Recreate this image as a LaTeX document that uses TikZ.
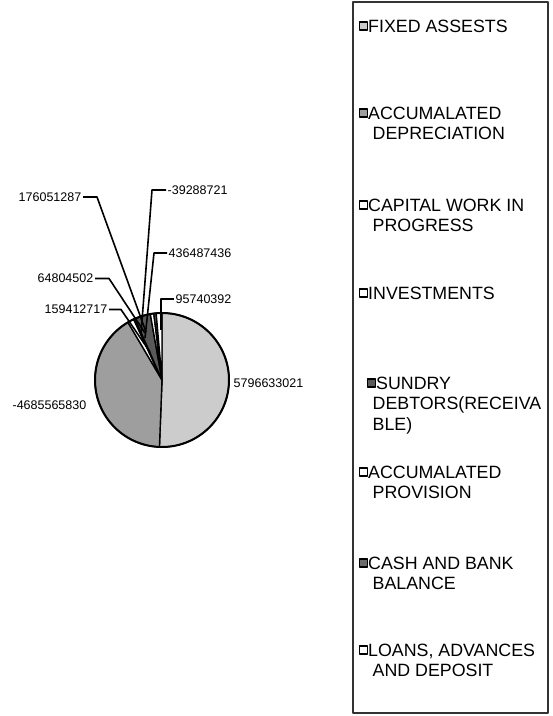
\documentclass[tikz,border=0pt]{standalone}
\usepackage{fontspec}
\setmainfont{Liberation Sans}
\definecolor{faGray}{gray}{0.80}
\definecolor{adGray}{gray}{0.62}
\definecolor{sdGray}{gray}{0.35}
\definecolor{cbGray}{gray}{0.42}
\begin{document}
\begin{tikzpicture}[x=1bp,y=-1bp,line join=round,
  num/.style={font=\fontsize{12.5bp}{14bp}\selectfont, inner sep=1.5bp},
  leg/.style={font=\fontsize{17.8bp}{20.5bp}\selectfont, align=left, inner sep=0pt, anchor=north west},
  key/.style={draw=black, line width=1.6bp, minimum size=8bp, inner sep=0pt},
  lead/.style={line width=1.6bp}]
\useasboundingbox (0,0) rectangle (553,716);

% pie, clockwise from 12 o'clock
\coordinate (c) at (162,380);
\foreach \a/\b/\col in {-90/92.19/faGray, 92.19/239.46/adGray, 239.46/244.99/white,
  244.99/246.23/white, 246.23/259.95/sdGray, 259.95/262.96/white,
  262.96/264.99/cbGray, 264.99/270/white} {
	\draw[line width=1.4bp, fill=\col] (c) -- ++(\a:67) arc (\a:\b:67) -- cycle;
}
\draw[line width=2bp] (c) circle (67);

% value labels
\node[num, anchor=east] (lbCWIP) at (83,197) {176051287};
\node[num, anchor=west] (lbINV) at (166,190) {-39288721};
\node[num, anchor=west] (lbSD) at (167,253) {436487436};
\node[num, anchor=west] (lbAP) at (174,299) {95740392};
\node[num, anchor=east] (lbCB) at (95,278.5) {64804502};
\node[num, anchor=east] (lbLA) at (109,309.5) {159412717};
\node[num, anchor=west] (lbFA) at (232,383) {5796633021};
\node[num, anchor=east] (lbAD) at (88,405) {-4685565830};

\coordinate (pCWIP) at (146,332);
\coordinate (pINV) at (141,334);
\coordinate (pSD) at (145,338);
\coordinate (pAP) at (161,330);
\coordinate (pCB) at (145,333);
\coordinate (pLA) at (150,352);
\draw[lead] (lbCWIP.east) -- ++(14,0) -- (pCWIP);
\draw[lead] (lbINV.west) -- ++(-14,0) -- (pINV);
\draw[lead] (lbSD.west) -- ++(-13,0) -- (pSD);
\draw[lead] (lbAP.west) -- ++(-13,0) -- (pAP);
\draw[lead] (lbCB.east) -- ++(14,0) -- (pCB);
\draw[lead] (lbLA.east) -- ++(12,0) -- (pLA);

% legend
\draw[line width=1.2bp, black!80] (353,2) rectangle (548,713);
\foreach \n/\y/\x/\col/\t in {
  1/26/0/faGray/{FIXED ASSESTS},
  2/113/0/adGray/{ACCUMALATED\\\hspace*{4.5bp}DEPRECIATION},
  3/205/0/white/{CAPITAL WORK IN\\\hspace*{4.5bp}PROGRESS},
  4/293/0/white/{INVESTMENTS},
  5/383/8/sdGray/{SUNDRY\\\hspace*{-3.5bp}DEBTORS(RECEIVA\\\hspace*{-3.5bp}BLE)},
  6/472/0/white/{ACCUMALATED\\\hspace*{4.5bp}PROVISION},
  7/563/0/cbGray/{CASH AND BANK\\\hspace*{4.5bp}BALANCE},
  8/650/0/white/{LOANS, ADVANCES\\\hspace*{4.5bp}AND DEPOSIT}} {
	\node[key, fill=\col] (key\n) at (363.5+\x,\y) {};
	\node[leg] (txt\n) at (368+\x,\y-6.3) {\t};
}

\end{tikzpicture}
\end{document}
